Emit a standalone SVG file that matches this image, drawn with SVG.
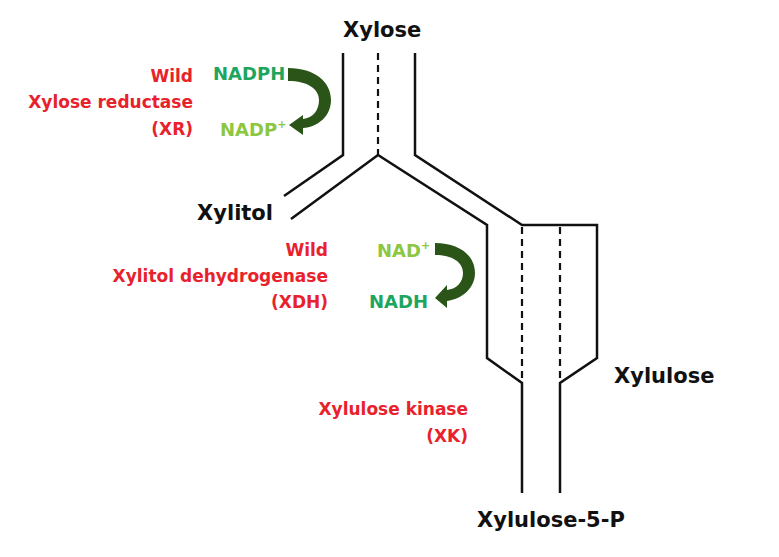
<svg xmlns="http://www.w3.org/2000/svg" width="779" height="557" viewBox="0 0 779 557">
<style>
.lbl{font-family:"DejaVu Sans",Verdana,sans-serif;font-weight:bold;font-size:21px;fill:#111}
.enz{font-family:"DejaVu Sans",Verdana,sans-serif;font-weight:bold;font-size:17px;fill:#e8222c;text-anchor:end}
.cof{font-family:"DejaVu Sans",Verdana,sans-serif;font-weight:bold;font-size:18px}
.dk{fill:#1ea55e}
.lt{fill:#8dc641}
.ln{fill:none;stroke:#111;stroke-width:2.5;stroke-linejoin:miter}
.ds{fill:none;stroke:#111;stroke-width:2.2;stroke-dasharray:7 5}
.arr{fill:#2b5518}
</style>
<rect width="779" height="557" fill="#fff"/>
<g id="connectors">
<polyline class="ln" points="343,53 343,155 284,196"/>
<polyline class="ln" points="291,219 378,155 487,225 487,358 522,383 522,493"/>
<polyline class="ln" points="415,53 415,155 522,225 597,225 597,358 560,383 560,493"/>
<line class="ds" x1="378" y1="53" x2="378" y2="155"/>
<line class="ds" x1="522" y1="227" x2="522" y2="381"/>
<line class="ds" x1="560" y1="227" x2="560" y2="381"/>
<path class="arr" d="M288,68 C315,68 331,82 331,100 C331,116 318,127 303,128 L303,135 L289,125 L303,115 L303,119 C313,118 319,110 319,100 C319,89 308,81 288,81 Z"/>
<path class="arr" d="M435,243 C460,243 475,256 475,273 C475,288 462,299 447,301 L447,308 L435,298 L447,285 L447,290 C457,289 463,282 463,273 C463,262 452,255 435,255 Z"/>
</g>
<g id="xylose"><text class="lbl" x="343" y="37">Xylose</text></g>
<g id="xylitol"><text class="lbl" x="273" y="220" text-anchor="end">Xylitol</text></g>
<g id="xylulose"><text class="lbl" x="614" y="383">Xylulose</text></g>
<g id="xylulose5p"><text class="lbl" x="477" y="527">Xylulose-5-P</text></g>
<g id="xr">
<text class="enz" x="193" y="82">Wild</text>
<text class="enz" x="193" y="108">Xylose reductase</text>
<text class="enz" x="193" y="135">(XR)</text>
</g>
<g id="xdh">
<text class="enz" x="328" y="256">Wild</text>
<text class="enz" x="328" y="282">Xylitol dehydrogenase</text>
<text class="enz" x="328" y="308">(XDH)</text>
</g>
<g id="xk">
<text class="enz" x="468" y="415">Xylulose kinase</text>
<text class="enz" x="468" y="442">(XK)</text>
</g>
<g id="nadph1"><text class="cof dk" x="213" y="80">NADPH</text></g>
<g id="nadp"><text class="cof lt" x="220" y="136">NADP<tspan font-size="11" dy="-8">+</tspan></text></g>
<g id="nad"><text class="cof lt" x="377" y="257">NAD<tspan font-size="11" dy="-8">+</tspan></text></g>
<g id="nadh"><text class="cof dk" x="369" y="308">NADH</text></g>
</svg>
